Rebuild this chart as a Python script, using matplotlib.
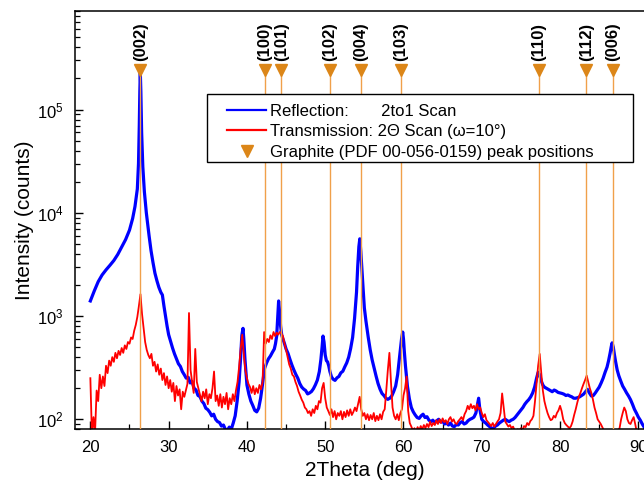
import matplotlib
matplotlib.use("Agg")
import matplotlib.pyplot as plt
import numpy as np
from matplotlib.lines import Line2D
from matplotlib.patches import Rectangle
from matplotlib.ticker import MultipleLocator, LogLocator, NullFormatter

plt.rcParams['font.family'] = ['Liberation Sans', 'DejaVu Sans']
plt.rcParams['mathtext.fontset'] = 'custom'
plt.rcParams['mathtext.rm'] = 'Liberation Sans'

# --- reflection (2to1 scan) ---
blue_x = [20.0, 20.5, 21.0, 21.5, 22.0, 22.5, 23.0, 23.5, 24.0, 24.5, 25.0, 25.4, 25.7, 26.0,
          26.15, 26.25, 26.32, 26.38, 26.45, 26.55, 26.7, 26.9, 27.15, 27.5, 27.75, 28.0,
          28.25, 28.5, 28.75, 29.0, 29.2, 29.4, 29.6, 29.8, 30.0, 30.25, 30.5, 30.75, 31.0,
          31.25, 31.5, 31.75, 32.0, 32.25, 32.5, 32.75, 33.0, 33.25, 33.5, 33.75, 34.0, 34.25,
          34.5, 34.75, 35.0, 35.25, 35.5, 35.75, 36.0, 36.25, 36.5, 36.75, 37.0, 37.25, 37.5,
          37.75, 38.0, 38.25, 38.5, 38.75, 39.0, 39.2, 39.35, 39.5, 39.6, 39.75, 39.9, 40.0,
          40.25, 40.5, 40.75, 41.0, 41.25, 41.5, 41.75, 42.0, 42.25, 42.5, 42.75, 43.0, 43.25,
          43.5, 43.65, 43.8, 43.95, 44.05, 44.15, 44.3, 44.45, 44.6, 44.8, 45.0, 45.25, 45.5,
          45.75, 46.0, 46.25, 46.5, 46.75, 47.0, 47.25, 47.5, 47.75, 48.0, 48.25, 48.5, 48.75,
          49.0, 49.25, 49.45, 49.6, 49.72, 49.85, 50.0, 50.15, 50.3, 50.45, 50.6, 50.8, 51.0,
          51.25, 51.5, 51.75, 52.0, 52.25, 52.5, 52.75, 53.0, 53.25, 53.5, 53.75, 54.0, 54.15,
          54.3, 54.42, 54.55, 54.7, 54.85, 55.0, 55.2, 55.5, 55.75, 56.0, 56.25, 56.5, 56.75,
          57.0, 57.25, 57.5, 57.75, 58.0, 58.25, 58.5, 58.75, 59.0, 59.25, 59.5, 59.75, 59.9,
          60.0, 60.1, 60.25, 60.5, 60.75, 61.0, 61.25, 61.5, 61.75, 62.0, 62.25, 62.5, 62.75,
          63.0, 63.25, 63.5, 63.75, 64.0, 64.25, 64.5, 64.75, 65.0, 65.25, 65.5, 65.75, 66.0,
          66.25, 66.5, 66.75, 67.0, 67.25, 67.5, 67.75, 68.0, 68.25, 68.5, 68.75, 69.0, 69.25,
          69.45, 69.6, 69.75, 70.0, 70.25, 70.5, 70.75, 71.0, 71.25, 71.5, 71.75, 72.0, 72.25,
          72.5, 72.75, 73.0, 73.25, 73.5, 73.75, 74.0, 74.25, 74.5, 74.75, 75.0, 75.25, 75.5,
          75.75, 76.0, 76.25, 76.5, 76.75, 77.0, 77.2, 77.4, 77.6, 77.8, 78.0, 78.25, 78.5,
          78.75, 79.0, 79.25, 79.5, 79.75, 80.0, 80.25, 80.5, 80.75, 81.0, 81.25, 81.5, 81.75,
          82.0, 82.25, 82.5, 82.75, 83.0, 83.25, 83.5, 83.75, 84.0, 84.25, 84.5, 84.75, 85.0,
          85.25, 85.5, 85.75, 86.0, 86.2, 86.4, 86.55, 86.65, 86.8, 86.95, 87.1, 87.3, 87.5,
          87.75, 88.0, 88.25, 88.5, 88.75, 89.0, 89.25, 89.5, 89.75, 90.0, 90.25, 90.5, 90.75,
          91.0]
blue_y = [1400, 1750, 2150, 2500, 2800, 3100, 3450, 3950, 4650, 5500, 6800, 8800, 11500, 17000,
          30000, 70000, 150000, 230000, 150000, 60000, 28000, 16000, 10000, 6000, 4300, 3300,
          2600, 2200, 1900, 1700, 1600, 1250, 1000, 800, 660, 570, 490, 430, 385, 345, 325, 290,
          270, 250, 255, 225, 232, 200, 192, 170, 166, 150, 142, 128, 124, 117, 108, 112, 100,
          95, 93, 86, 88, 80, 78, 84, 80, 92, 108, 150, 230, 400, 650, 760, 600, 380, 270, 215,
          175, 150, 136, 122, 118, 128, 160, 220, 310, 350, 385, 410, 445, 480, 540, 640, 1000,
          1400, 1150, 800, 650, 600, 540, 480, 435, 380, 335, 300, 272, 250, 222, 205, 196, 190,
          176, 180, 186, 198, 216, 240, 290, 380, 500, 640, 560, 420, 370, 360, 330, 290, 258, 245,
          238, 252, 260, 282, 292, 322, 352, 400, 485, 620, 950, 1700, 3000, 4700, 5600, 4200, 2700,
          1800, 1200, 900, 620, 470, 375, 312, 262, 222, 196, 178, 170, 160, 156, 160, 168, 186,
          210, 270, 400, 600, 700, 600, 460, 330, 210, 158, 130, 118, 110, 104, 102, 108, 112,
          104, 106, 98, 95, 98, 92, 97, 100, 94, 96, 90, 92, 88, 92, 86, 85, 89, 88, 93, 95, 90,
          92, 97, 100, 102, 105, 115, 140, 160, 125, 100, 95, 92, 88, 85, 82, 82, 86, 88, 92, 95,
          98, 100, 97, 95, 98, 100, 104, 110, 116, 123, 130, 140, 148, 155, 165, 180, 205, 250,
          285, 270, 235, 215, 205, 200, 195, 190, 185, 192, 188, 182, 180, 178, 175, 170, 172,
          168, 165, 160, 160, 162, 165, 170, 175, 185, 195, 180, 168, 170, 180, 192, 205, 225,
          250, 285, 320, 370, 440, 510, 550, 500, 420, 360, 300, 265, 235, 210, 195, 180, 168,
          155, 140, 125, 115, 105, 98, 90, 84, 78]

# --- transmission (2Theta scan, omega=10 deg), every 0.2 deg from 20 to 90 ---
red_x = np.round(np.arange(20.0, 90.001, 0.2), 1)
red_y = [250, 70, 105, 75, 190,        # 20
         150, 270, 200, 260, 210,      # 21
         330, 280, 370, 330, 400,      # 22
         360, 440, 390, 460, 420,      # 23
         490, 440, 520, 480, 560,      # 24
         540, 620, 600, 720, 820,      # 25
         980, 1250, 1630, 1050, 760,   # 26
         560, 470, 420, 390, 430,      # 27
         330, 360, 290, 340, 270,      # 28
         310, 240, 280, 215, 260,      # 29
         200, 240, 185, 225, 150,      # 30
         210, 170, 195, 125, 185,      # 31
         165, 190, 220, 1070, 300,     # 32
         230, 180, 480, 230, 200,      # 33
         175, 150, 185, 160, 195,      # 34
         140, 175, 160, 200, 290,      # 35
         150, 170, 135, 175, 130,      # 36
         165, 140, 180, 125, 160,      # 37
         140, 175, 150, 190, 230,      # 38
         320, 480, 660, 430, 300,      # 39
         250, 220, 205, 180, 210,      # 40
         175, 200, 180, 215, 195,      # 41
         230, 700, 540, 600, 560,      # 42
         650, 600, 700, 640, 690,      # 43
         660, 700, 680, 640, 540,      # 44
         470, 400, 340, 310, 270,      # 45
         260, 230, 210, 185, 170,      # 46
         155, 145, 130, 125, 115,      # 47
         120, 108, 125, 115, 135,      # 48
         125, 150, 145, 200, 225,      # 49
         160, 130, 120, 110, 125,      # 50
         105, 120, 100, 115, 108,      # 51
         120, 100, 118, 105, 122,      # 52
         108, 125, 110, 118, 130,      # 53
         120, 140, 165, 125, 108,      # 54
         115, 100, 112, 98, 110,       # 55
         100, 115, 96, 108, 98,        # 56
         112, 100, 118, 125, 190,      # 57
         300, 440, 230, 130, 108,      # 58
         100, 112, 98, 115, 125,       # 59
         170, 200, 260, 120, 92,       # 60
         85, 78, 82, 76, 84,           # 61
         78, 86, 80, 88, 82,           # 62
         90, 84, 95, 86, 92,           # 63
         88, 98, 90, 100, 92,          # 64
         102, 94, 98, 90, 100,         # 65
         105, 95, 100, 92, 90,         # 66
         96, 100, 105, 98, 112,        # 67
         120, 135, 125, 140, 128,      # 68
         135, 122, 140, 125, 130,      # 69
         115, 105, 112, 98, 94,        # 70
         90, 86, 92, 85, 90,           # 71
         95, 100, 115, 178, 130,       # 72
         95, 90, 85, 88, 82,           # 73
         85, 78, 76, 80, 77,           # 74
         82, 78, 86, 84, 92,           # 75
         88, 96, 100, 108, 150,        # 76
         220, 330, 430, 280, 190,      # 77
         150, 130, 115, 105, 98,       # 78
         100, 108, 104, 115, 122,      # 79
         135, 120, 100, 92, 88,        # 80
         85, 82, 86, 95, 110,          # 81
         125, 145, 165, 180, 200,      # 82
         220, 240, 265, 230, 200,      # 83
         180, 155, 130, 115, 100,      # 84
         95, 90, 84, 78, 74,           # 85
         72, 70, 70, 72, 74,           # 86
         72, 76, 78, 82, 100,          # 87
         115, 130, 120, 100, 92,       # 88
         90, 98, 105, 90, 75,          # 89
         70]                           # 90

# --- graphite reference peaks (PDF 00-056-0159) ---
peak_pos = [26.38, 42.25, 44.4, 50.55, 54.52, 59.68, 77.25, 83.35, 86.75]
peak_labels = ['(002)', '(100)', '(101)', '(102)', '(004)', '(103)', '(110)', '(112)', '(006)']
marker_level = 2.4e5

fig = plt.figure(figsize=(6.44, 4.83), dpi=100)
W, H = 644, 483
ax = fig.add_axes([74.7 / W, 1 - 429.3 / H, (654 - 74.7) / W, (429.3 - 11) / H])

ax.plot(blue_x, blue_y, color='#0000FF', lw=2.3, zorder=2)
ax.plot(red_x, red_y, color='#FF0000', lw=1.3, zorder=2.1)

ax.vlines(peak_pos, 50, marker_level, color='#F0A04A', lw=1.0, zorder=3)
ax.plot(peak_pos, [marker_level] * len(peak_pos), 'v', color='#DC8618', ms=8, zorder=3.1,
        clip_on=False)
for xp, lab in zip(peak_pos, peak_labels):
    ax.annotate(lab, (xp, marker_level), xytext=(0, 7), textcoords='offset points',
                rotation=90, ha='center', va='bottom', fontsize=12, fontweight='bold')

ax.set_xlim(18, 92)
ax.set_yscale('log')
ax.set_ylim(80, 9.0e5)
ax.xaxis.set_major_locator(MultipleLocator(10))
ax.xaxis.set_minor_locator(MultipleLocator(5))
ax.yaxis.set_minor_locator(LogLocator(subs=np.arange(2, 10)))
ax.yaxis.set_minor_formatter(NullFormatter())
ax.tick_params(which='both', direction='in', top=False, right=False, labelsize=12)
ax.tick_params(which='major', length=6, width=1.0)
ax.tick_params(which='minor', length=3.5, width=0.9)
ax.tick_params(axis='x', pad=8)
ax.tick_params(axis='y', pad=8)
for s in ax.spines.values():
    s.set_linewidth(1.1)

ax.set_xlabel('2Theta (deg)', fontsize=15, labelpad=4)
ax.set_ylabel('Intensity (counts)', fontsize=15, labelpad=2)

# legend box drawn by hand so the frame padding matches
ax.add_patch(Rectangle((207 / W, 1 - 162 / H), (633 - 207) / W, (162 - 94) / H,
                       transform=fig.transFigure, facecolor='white', edgecolor='black',
                       lw=1.0, zorder=4, clip_on=False))
handles = [Line2D([], [], color='#0000FF', lw=1.6),
           Line2D([], [], color='#FF0000', lw=1.6),
           Line2D([], [], color='#DC8618', ls='none', marker='v', ms=8)]
labels = ['Reflection:       2to1 Scan',
          'Transmission: 2\u0398 Scan (\u03c9=10\u00b0)',
          'Graphite (PDF 00-056-0159) peak positions']
leg = ax.legend(handles, labels, loc='upper left', bbox_to_anchor=(227 / W, 1 - 103.5 / H),
                bbox_transform=fig.transFigure, frameon=False, fontsize=12, borderpad=0,
                borderaxespad=0, handlelength=2.35, handletextpad=0.25, labelspacing=0.35)
leg.set_zorder(5)

fig.savefig('out.png', dpi=100)
